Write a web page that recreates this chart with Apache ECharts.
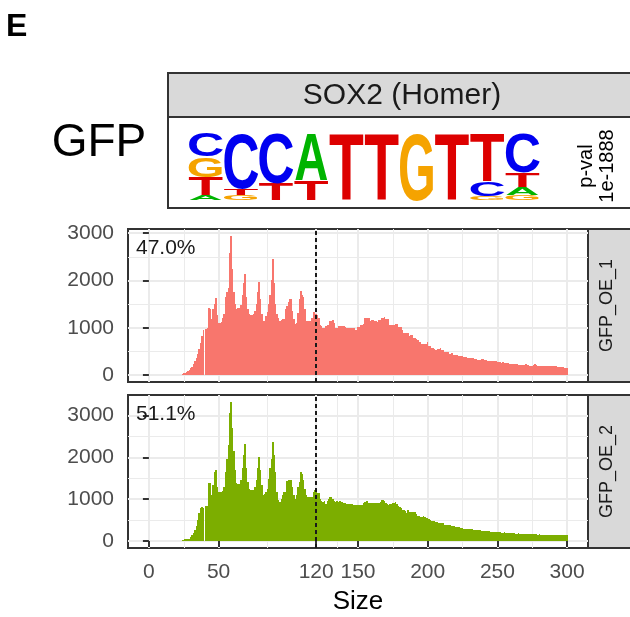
<!DOCTYPE html>
<html><head><meta charset="utf-8">
<script src="https://cdn.jsdelivr.net/npm/echarts@6/dist/echarts.min.js"></script>
<style>html,body{margin:0;padding:0;background:#fff}#c{width:630px;height:617px}</style>
</head><body><div id="c"></div><script>
// ---------------- data ----------------
const sizeMin = 24, sizeMax = 300;
const sizes = [];
for (let s = sizeMin; s <= sizeMax; s++) sizes.push(s);

// fragment counts per size (24..300), sample GFP_OE_1
const gfpOE1 = [
  25, 35, 45, 55, 75, 100,                                   // 24-29
  140, 180, 230, 290, 360, 450, 550, 680, 820, 960,          // 30-39
  0, 970, 990, 1420, 1400, 1180, 1390, 1500, 1630, 1260,     // 40-49
  1110, 1110, 1120, 1200, 1290, 1640, 1750, 1850, 2590, 2940,// 50-59
  2240, 1750, 1500, 1400, 1410, 1420, 1490, 1690, 1950, 2130,// 60-69
  1650, 1400, 1280, 1270, 1270, 1280, 1350, 1500, 1750, 1960,// 70-79
  1600, 1300, 1150, 1150, 1250, 1340, 1500, 1700, 2000, 2450,// 80-89
  1950, 1500, 1300, 1200, 1150, 1160, 1180, 1180, 1390, 1450,// 90-99
  1550, 1610, 1600, 1360, 1180, 1080, 1110, 1320, 1600, 1780,// 100-109
  1700, 1650, 1400, 1150, 1150, 1150, 1150, 1200, 1340, 1340,// 110-119
  1300, 1270, 1200, 1050, 1040, 1000, 990, 1040, 1060, 1065, // 120-129
  1140, 1150, 1170, 1110, 1000, 990, 1040, 1045, 1040, 1040, // 130-139
  1030, 1025, 995, 990, 1000, 995, 995, 990, 960, 960,       // 140-149
  1020, 1025, 1065, 1060, 1070, 1200, 1210, 1205, 1200, 1150,// 150-159
  1170, 1170, 1150, 1150, 1120, 1170, 1170, 1198, 1198, 1233,// 160-169
  1184, 1184, 1184, 1057, 1057, 1057, 1057, 1078, 1078, 1022,// 170-179
  1022, 1022, 952, 888, 888, 888, 880, 818, 846, 846,        // 180-189
  775, 775, 760, 747, 705, 705, 656, 656, 656, 656,          // 190-199
  705, 606, 606, 571, 571, 550, 536, 550, 560, 571,          // 200-209
  536, 536, 494, 494, 494, 480, 444, 465, 465, 423,          // 210-219
  423, 423, 410, 395, 395, 395, 385, 374, 374, 370,          // 220-229
  360, 360, 360, 360, 345, 330, 320, 318, 316, 330,          // 230-239
  335, 310, 308, 305, 300, 295, 290, 290, 288, 290,          // 240-249
  280, 270, 268, 265, 268, 262, 250, 248, 245, 240,          // 250-259
  235, 232, 230, 232, 225, 215, 218, 220, 222, 218,          // 260-269
  225, 230, 205, 200, 200, 198, 205, 225, 210, 190,          // 270-279
  185, 190, 200, 195, 198, 196, 195, 200, 185, 182,          // 280-289
  185, 190, 200, 180, 175, 172, 170, 160, 158, 155, 152      // 290-300
];

// fragment counts per size (24..300), sample GFP_OE_2
const gfpOE2 = [
  30, 35, 40, 45, 50, 60,                                    // 24-29
  90, 140, 200, 270, 370, 500, 680, 780, 820, 790,           // 30-39
  0, 830, 840, 1390, 1390, 1090, 1330, 1650, 1690, 1300,     // 40-49
  1170, 1170, 1170, 1200, 1300, 1650, 1950, 2300, 3050, 3320,// 50-59
  2700, 2150, 1700, 1390, 1370, 1370, 1470, 1750, 2050, 2320,// 60-69
  1750, 1410, 1250, 1210, 1210, 1210, 1280, 1450, 1750, 2000,// 70-79
  1700, 1330, 1110, 1130, 1170, 1250, 1480, 1750, 1950, 2360,// 80-89
  2050, 1650, 1170, 990, 930, 1000, 1090, 1170, 1170, 1440,  // 90-99
  1460, 1470, 1450, 1300, 1100, 1010, 1100, 1290, 1400, 1660,// 100-109
  1600, 1450, 1250, 1100, 1060, 1050, 1050, 1060, 1180, 1210,// 110-119
  1210, 1150, 1150, 1000, 950, 945, 950, 890, 950, 1000,     // 120-129
  1050, 1050, 1000, 950, 945, 950, 940, 950, 945, 940,       // 130-139
  920, 900, 890, 895, 890, 885, 890, 870, 870, 860,          // 140-149
  870, 868, 870, 868, 900, 940, 955, 955, 915, 915,          // 150-159
  920, 910, 915, 920, 910, 900, 940, 970, 975, 960,          // 160-169
  920, 880, 870, 880, 890, 900, 920, 925, 880, 840,          // 170-179
  820, 790, 750, 740, 720, 680, 740, 700, 690, 690,          // 180-189
  695, 690, 640, 610, 600, 570, 580, 600, 570, 560,          // 190-199
  540, 530, 500, 490, 480, 470, 465, 460, 440, 435,          // 200-209
  430, 420, 390, 390, 385, 390, 380, 360, 355, 350,          // 210-219
  340, 335, 340, 345, 310, 300, 285, 280, 280, 280,          // 220-229
  282, 290, 295, 275, 270, 265, 262, 258, 260, 250,          // 230-239
  245, 248, 240, 232, 230, 228, 220, 215, 222, 212,          // 240-249
  208, 215, 210, 200, 198, 205, 195, 192, 190, 195,          // 250-259
  185, 182, 188, 180, 178, 185, 176, 172, 178, 170,          // 260-269
  175, 168, 172, 165, 162, 168, 160, 158, 165, 155,          // 270-279
  160, 152, 150, 155, 148, 150, 152, 145, 148, 142,          // 280-289
  150, 145, 140, 145, 142, 140, 145, 140, 138, 140, 155      // 290-300
];

const sampleNames = ['GFP_OE_1', 'GFP_OE_2'];
const pctLabels = ['47.0%', '51.1%'];
const xTicks = [0, 50, 120, 150, 200, 250, 300];
const xMinor = [25, 85, 135, 175, 225, 275];
const yTicks = [0, 1000, 2000, 3000];
const yMinor = [500, 1500, 2500];
const cutoff = 120;

// sequence logo (SOX2 Homer motif), letters stacked bottom->top with probabilities
const logoLetters = [
  ['A', 'T', 'G', 'C'],
  ['G', 'T', 'C'],
  ['T', 'C'],
  ['T', 'A'],
  ['T'],
  ['T'],
  ['G'],
  ['T'],
  ['G', 'C', 'T'],
  ['G', 'A', 'T', 'C']
];
const logoProbs = [
  [0.07, 0.27, 0.30, 0.36],
  [0.07, 0.10, 0.83],
  [0.25, 0.75],
  [0.29, 0.71],
  [1.0],
  [1.0],
  [1.0],
  [1.0],
  [0.06, 0.21, 0.73],
  [0.07, 0.12, 0.22, 0.59]
];
const motifTitle = 'SOX2 (Homer)';
const pvalLines = ['p-val', '1e-1888'];

// ---------------- styling ----------------
const FONT = '"Liberation Sans", Arial, Helvetica, sans-serif';
const letterColors = { A: '#00b400', C: '#0000f0', G: '#f5a300', T: '#dd0000' };
const inkWidth = { A: 0.70, C: 0.64, G: 0.68, T: 0.58 };
const panels = [
  { top: 229, values: gfpOE1, color: '#F8766D', ymin: -147, ymax: 3087 },
  { top: 395, values: gfpOE2, color: '#7CAE00', ymin: -166, ymax: 3490 }
];
const GL = 128, GW = 460, GH = 153;
const plain = v => String(v);

const chart = echarts.init(document.getElementById('c'));
const grids = [], xAxes = [], yAxes = [], series = [];

panels.forEach((p, i) => {
  grids.push({ left: GL, top: p.top, width: GW, height: GH, show: true,
    backgroundColor: '#fff', borderColor: '#333', borderWidth: 2 });
  const isBottom = i === panels.length - 1;
  xAxes.push({
    gridIndex: i, type: 'value', min: -15, max: 315, position: 'bottom',
    axisLine: { show: false },
    axisTick: { show: isBottom, customValues: xTicks, length: 6, lineStyle: { color: '#333', width: 2 } },
    axisLabel: { show: isBottom, customValues: xTicks, formatter: plain, margin: 14, fontSize: 21, color: '#4d4d4d', fontFamily: FONT },
    splitLine: { show: true, lineStyle: { color: '#ebebeb', width: 2 } }
  });
  xAxes.push({
    gridIndex: i, type: 'value', min: -15, max: 315, position: 'top',
    axisLine: { show: false },
    axisTick: { show: false, customValues: xMinor },
    axisLabel: { show: false, customValues: xMinor },
    splitLine: { show: true, lineStyle: { color: '#ebebeb', width: 1 } }
  });
  yAxes.push({
    gridIndex: i, type: 'value', min: p.ymin, max: p.ymax, position: 'left',
    axisLine: { show: false },
    axisTick: { show: true, customValues: yTicks, length: 6, lineStyle: { color: '#333', width: 2 } },
    axisLabel: { show: true, customValues: yTicks, formatter: plain, margin: 14, fontSize: 21, color: '#4d4d4d', fontFamily: FONT },
    splitLine: { show: true, lineStyle: { color: '#ebebeb', width: 2 } }
  });
  yAxes.push({
    gridIndex: i, type: 'value', min: p.ymin, max: p.ymax, position: 'right',
    axisLine: { show: false },
    axisTick: { show: false, customValues: yMinor },
    axisLabel: { show: false, customValues: yMinor },
    splitLine: { show: true, lineStyle: { color: '#ebebeb', width: 1 } }
  });
  series.push({
    type: 'custom', xAxisIndex: 2 * i, yAxisIndex: 2 * i, silent: true, z: 2,
    data: sizes.map((s, k) => [s, p.values[k]]),
    renderItem: (params, api) => {
      const s = api.value(0), v = api.value(1);
      const a = api.coord([s - 0.5, 0]);
      const b = api.coord([s + 0.5, v]);
      const x0 = Math.round(a[0]), x1 = Math.round(b[0]);
      const yb = Math.round(a[1]), yt = Math.round(b[1]);
      if (yb - yt <= 0 || x1 <= x0) return null;
      return { type: 'rect', shape: { x: x0, y: yt, width: x1 - x0, height: yb - yt },
        style: { fill: p.color } };
    },
    markLine: {
      silent: true, symbol: 'none', label: { show: false },
      lineStyle: { color: '#1a1a1a', width: 2, type: [4, 3] },
      data: [{ xAxis: cutoff }]
    }
  });
});

// logo grid
grids.push({ left: 188, top: 132, width: 352, height: 68 });
xAxes.push({ gridIndex: 2, type: 'value', min: 0.5, max: 10.5, show: false });
yAxes.push({ gridIndex: 2, type: 'value', min: 0, max: 1, show: false });
const logoData = [], logoFlat = [];
logoLetters.forEach((col, i) => {
  let acc = 0;
  col.forEach((L, j) => {
    const pr = logoProbs[i][j];
    logoData.push([i + 1, acc, acc + pr]);
    logoFlat.push(L);
    acc += pr;
  });
});
series.push({
  type: 'custom', xAxisIndex: 4, yAxisIndex: 4, data: logoData, silent: true, z: 5,
  renderItem: (params, api) => {
    const L = logoFlat[params.dataIndex];
    const pos = api.value(0), y0 = api.value(1), y1 = api.value(2);
    const a = api.coord([pos - 0.47, y0]);
    const b = api.coord([pos + 0.47, y1]);
    const w = b[0] - a[0], h = a[1] - b[1];
    return {
      type: 'text', x: (a[0] + b[0]) / 2, y: (a[1] + b[1]) / 2,
      scaleX: w / (inkWidth[L] * 100), scaleY: h / 72,
      style: { text: L, x: 0, y: 8, fontSize: 100, fontWeight: 'bold', fontFamily: FONT,
        fill: letterColors[L], align: 'center', verticalAlign: 'middle' }
    };
  }
});

const graphic = [
  { type: 'text', x: 6, y: 27, z: 10, style: { text: 'E', font: 'bold 32px ' + FONT, fill: '#000', align: 'left', verticalAlign: 'middle' } },
  { type: 'text', x: 99, y: 143, z: 10, style: { text: 'GFP', font: '46px ' + FONT, fill: '#000', align: 'center', verticalAlign: 'middle' } },
  { type: 'rect', z: 0, shape: { x: 168, y: 73, width: 480, height: 44 }, style: { fill: '#d9d9d9', stroke: '#333', lineWidth: 2 } },
  { type: 'rect', z: 0, shape: { x: 168, y: 117, width: 480, height: 91 }, style: { fill: '#fff', stroke: '#333', lineWidth: 2 } },
  { type: 'text', x: 402, y: 96, z: 10, style: { text: motifTitle, font: '30px ' + FONT, fill: '#1a1a1a', align: 'center', verticalAlign: 'middle' } },
  { type: 'text', x: 586, y: 166, z: 10, rotation: Math.PI / 2, style: { text: pvalLines[0], font: '20px ' + FONT, fill: '#000', align: 'center', verticalAlign: 'middle' } },
  { type: 'text', x: 607, y: 166, z: 10, rotation: Math.PI / 2, style: { text: pvalLines[1], font: '20px ' + FONT, fill: '#000', align: 'center', verticalAlign: 'middle' } },
  { type: 'text', x: 358, y: 602, z: 10, style: { text: 'Size', font: '26px ' + FONT, fill: '#000', align: 'center', verticalAlign: 'middle' } }
];
panels.forEach((p, i) => {
  graphic.push({ type: 'rect', z: 0, shape: { x: 588, y: p.top, width: 60, height: GH }, style: { fill: '#d9d9d9', stroke: '#333', lineWidth: 2 } });
  graphic.push({ type: 'text', x: 607.5, y: p.top + GH / 2, z: 10, rotation: Math.PI / 2, style: { text: sampleNames[i], font: '18px ' + FONT, fill: '#1a1a1a', align: 'center', verticalAlign: 'middle' } });
  graphic.push({ type: 'text', x: 136, y: p.top + 19, z: 10, style: { text: pctLabels[i], font: '21px ' + FONT, fill: '#1a1a1a', align: 'left', verticalAlign: 'middle' } });
});

chart.setOption({
  animation: false,
  backgroundColor: '#fff',
  grid: grids, xAxis: xAxes, yAxis: yAxes, series: series, graphic: graphic
});
</script></body></html>
